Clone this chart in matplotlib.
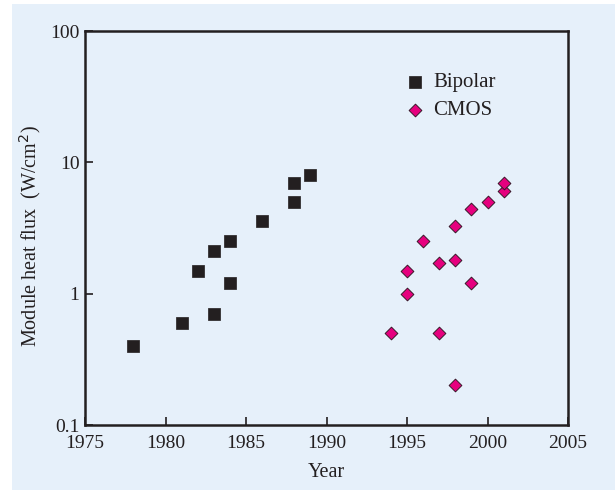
import matplotlib
matplotlib.use('Agg')
import matplotlib.pyplot as plt
from matplotlib.patches import Rectangle
from matplotlib.ticker import FixedLocator, FixedFormatter, NullLocator

bipolar_year = [1978, 1981, 1982, 1983, 1983, 1984, 1984, 1986, 1988, 1988, 1989]
bipolar_flux = [0.40, 0.60, 1.5, 0.70, 2.1, 1.2, 2.5, 3.6, 5.0, 7.0, 8.0]

cmos_year = [1994, 1995, 1995, 1996, 1997, 1997, 1998, 1998, 1998, 1999, 1999, 2000, 2001, 2001]
cmos_flux = [0.50, 1.0, 1.5, 2.5, 0.50, 1.7, 0.20, 1.8, 3.3, 1.2, 4.4, 5.0, 6.1, 7.0]

x_ticks = [1975, 1980, 1985, 1990, 1995, 2000, 2005]
y_ticks = [0.1, 1, 10, 100]
y_labels = ['0.1', '1', '10', '100']

bg = '#E6F0FA'
ink = '#231F20'
plt.rcParams['font.family'] = ['Liberation Serif', 'DejaVu Serif']

fig = plt.figure(figsize=(6.15, 4.92), dpi=100)
fig.patch.set_facecolor('white')
fig.patches.append(Rectangle((12 / 615, 0.004), 1, 1 - 4 / 492 - 0.004,
                             transform=fig.transFigure, facecolor=bg,
                             edgecolor='none', zorder=-1))

ax = fig.add_axes([85 / 615, 1 - 425 / 492, (568 - 85) / 615, (425 - 31) / 492])
ax.set_facecolor(bg)

ax.scatter(bipolar_year, bipolar_flux, marker='s', s=85, color=ink,
           edgecolors=ink, linewidths=0.5, label='Bipolar', zorder=3)
ax.scatter(cmos_year, cmos_flux, marker='D', s=42, color='#E6007E',
           edgecolors='#3a1a2a', linewidths=0.7, label='CMOS', zorder=3)

ax.set_yscale('log')
ax.set_xlim(1975, 2005)
ax.set_ylim(0.1, 100)
ax.set_xticks(x_ticks)
ax.yaxis.set_major_locator(FixedLocator(y_ticks))
ax.yaxis.set_major_formatter(FixedFormatter(y_labels))
ax.yaxis.set_minor_locator(NullLocator())

ax.tick_params(direction='in', length=6, width=1.2, labelsize=14,
               colors=ink, pad=4)
ax.tick_params(axis='x', pad=7)
for sp in ax.spines.values():
    sp.set_linewidth(1.8)
    sp.set_color(ink)

ax.set_xlabel('Year', fontsize=14.5, color=ink, labelpad=8)
ax.set_ylabel('Module heat flux  (W/cm$^2$)', fontsize=14.5, color=ink)
ax.yaxis.set_label_coords(-0.086, 0.48)

leg = ax.legend(loc='upper left', bbox_to_anchor=(0.644, 0.915), frameon=False,
                fontsize=15, handlelength=1.0, handletextpad=0.4, labelspacing=0.4,
                scatterpoints=1, borderaxespad=0)
for t in leg.get_texts():
    t.set_color(ink)

fig.savefig('out.png', dpi=100, facecolor=fig.get_facecolor())
